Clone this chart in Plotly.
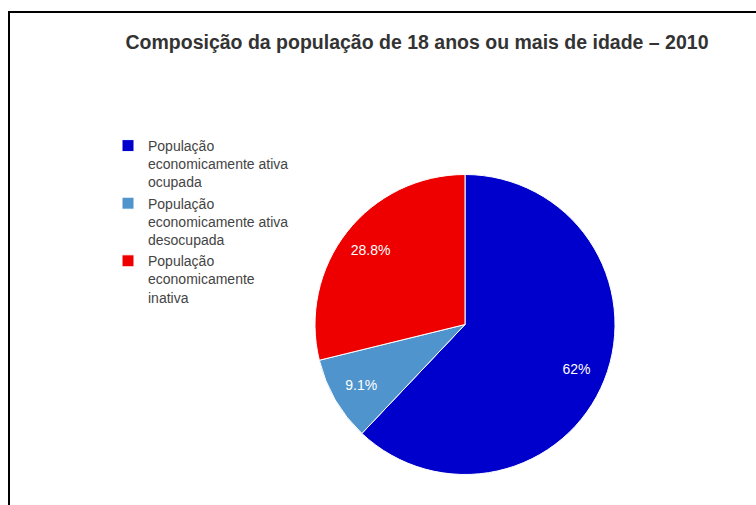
import plotly.graph_objects as go

labels = [
    "População<br>economicamente ativa<br>ocupada",
    "População<br>economicamente ativa<br>desocupada",
    "População<br>economicamente<br>inativa",
]
values = [62, 9.1, 28.8]
colors = ["#0000CC", "#4F94CD", "#EE0000"]
title = "Composição da população de 18 anos ou mais de idade – 2010"

W, H = 756, 505
FONT = "Liberation Sans, Arial, sans-serif"
DOMAIN = dict(x=[315 / W, 615 / W], y=[30 / H, 331 / H])

fig = go.Figure()

# the pie slices
fig.add_trace(
    go.Pie(
        labels=labels,
        values=values,
        sort=False,
        direction="clockwise",
        rotation=0,
        marker=dict(colors=colors, line=dict(color="white", width=1)),
        textinfo="none",
        hoverinfo="label+percent",
        domain=DOMAIN,
    )
)

# transparent ring carrying the labels at ~0.8 of the radius
fig.add_trace(
    go.Pie(
        labels=labels,
        values=values,
        sort=False,
        direction="clockwise",
        rotation=0,
        hole=0.6,
        showlegend=False,
        marker=dict(colors=["rgba(0,0,0,0)"] * len(values), line=dict(width=0)),
        texttemplate="%{value}%",
        textposition="inside",
        insidetextorientation="horizontal",
        textfont=dict(family=FONT, size=14, color="white"),
        hoverinfo="skip",
        domain=DOMAIN,
    )
)

fig.update_layout(
    width=W,
    height=H,
    margin=dict(l=0, r=0, t=0, b=0),
    paper_bgcolor="white",
    plot_bgcolor="white",
    title=dict(
        text=f"<b>{title}</b>",
        x=417 / W,
        xanchor="center",
        y=1 - 42 / H,
        yanchor="middle",
        font=dict(family=FONT, size=19.5, color="#333333"),
    ),
    legend=dict(
        x=108 / W,
        xanchor="left",
        y=1 - 130 / H,
        yanchor="top",
        valign="top",
        font=dict(family=FONT, size=14, color="#444444"),
        bgcolor="rgba(0,0,0,0)",
    ),
    shapes=[
        dict(
            type="rect",
            xref="paper",
            yref="paper",
            x0=9 / W,
            x1=1.05,
            y0=-0.05,
            y1=1 - 12 / H,
            line=dict(color="black", width=2),
            fillcolor="rgba(0,0,0,0)",
        )
    ],
)

fig.write_html(
    "out.html",
    config={"displayModeBar": False},
    post_script="document.body.style.margin='0px';document.body.style.overflow='hidden';",
)
